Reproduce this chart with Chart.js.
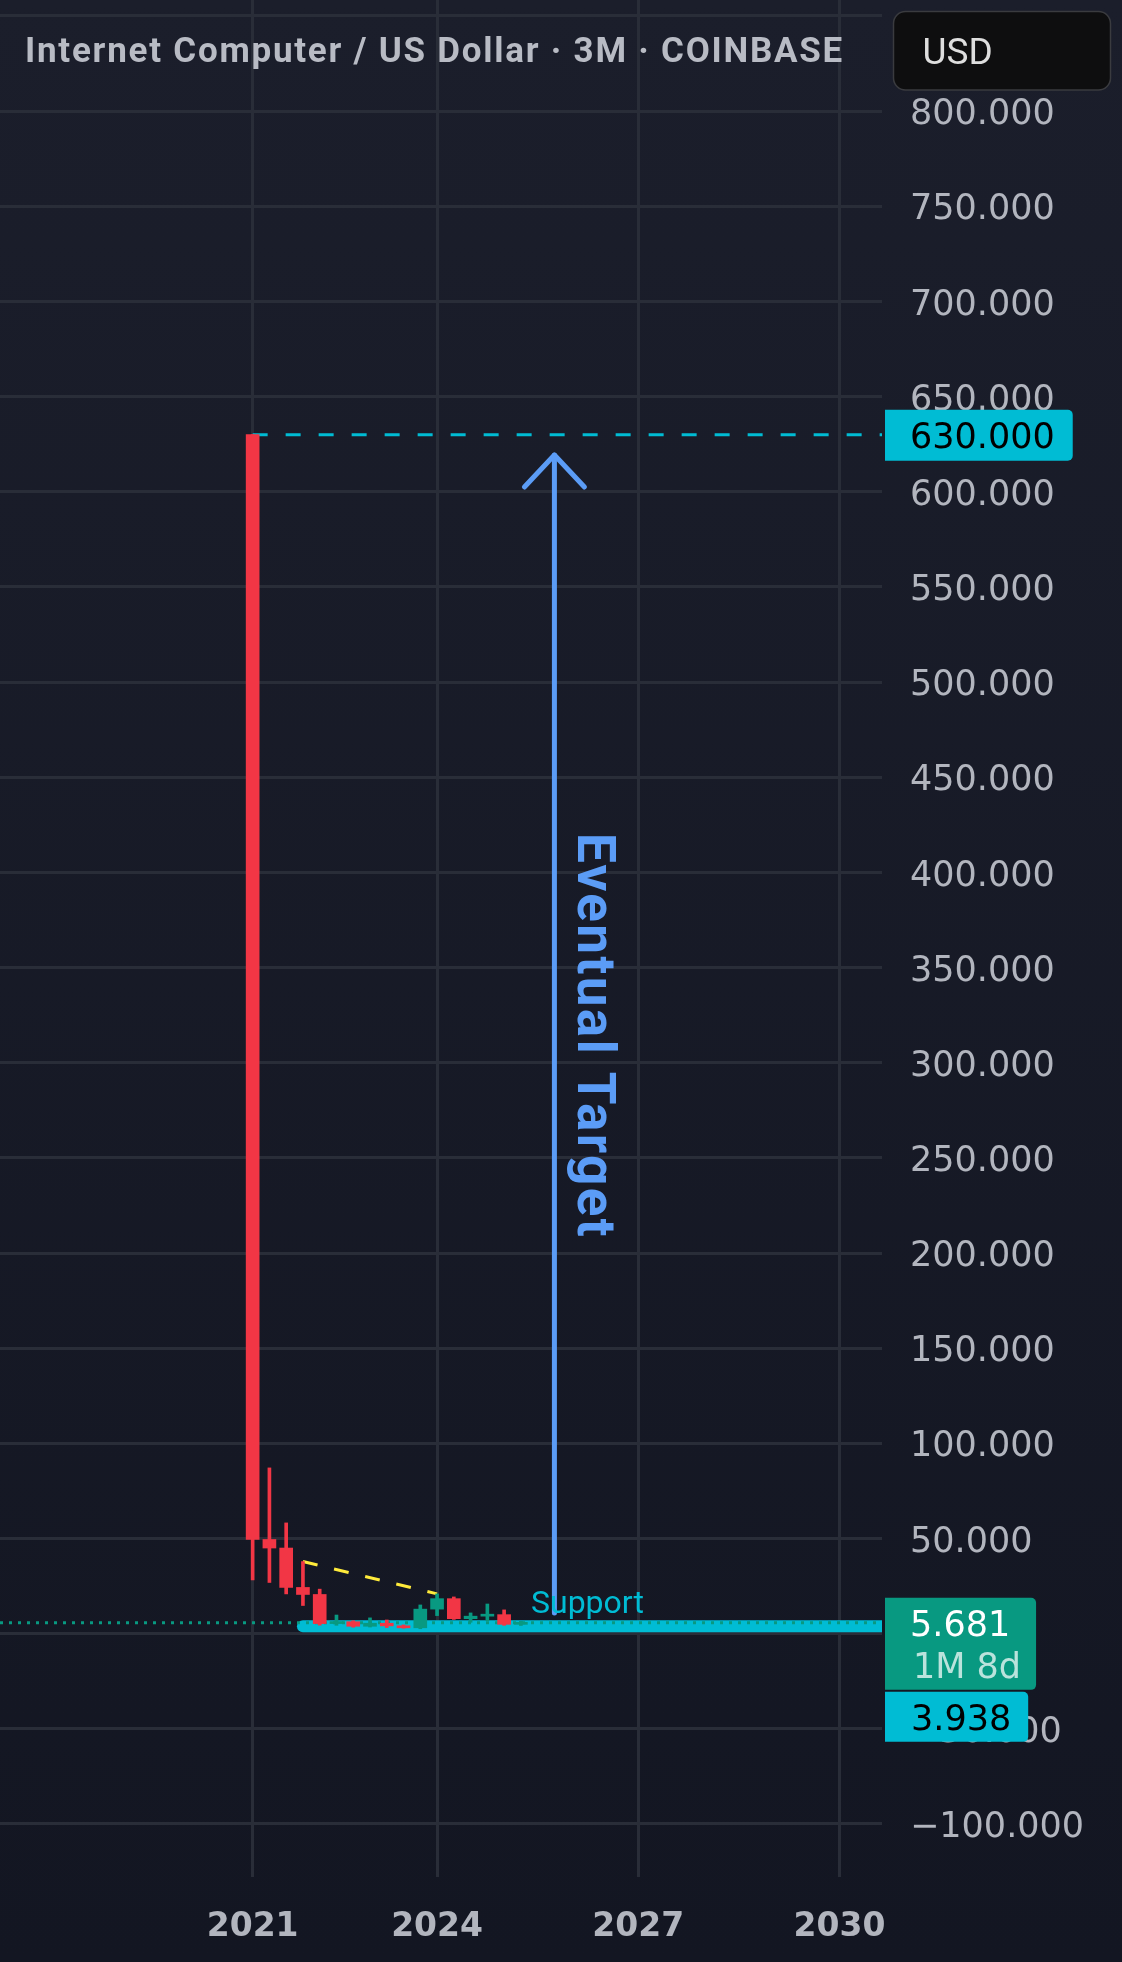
<!DOCTYPE html>
<html>
<head>
<meta charset="utf-8">
<script src="https://cdn.jsdelivr.net/npm/chart.js@4.4.1/dist/chart.umd.min.js"></script>
<style>
html,body{margin:0;padding:0;background:#161a25;overflow:hidden}
canvas{display:block}
</style>
</head>
<body>
<canvas id="c" width="1122" height="1962"></canvas>
<script>
// ---- data (ICP/USD, 3-month candles, Coinbase) ----
const quarters = ['2021 Q2','2021 Q3','2021 Q4','2022 Q1','2022 Q2','2022 Q3','2022 Q4','2023 Q1','2023 Q2','2023 Q3','2023 Q4','2024 Q1','2024 Q2','2024 Q3','2024 Q4','2025 Q1','2025 Q2'];
const opens  = [630.0, 49.5, 45.0, 24.3, 20.6, 5.3, 6.3, 3.9, 5.5, 4.1, 3.1, 12.9, 18.4, 7.9, 9.2, 10.0, 4.9];
const highs  = [630.0, 87.1, 58.2, 37.9, 23.4, 9.8, 6.8, 8.3, 7.2, 4.6, 15.1, 20.9, 19.3, 10.9, 15.6, 12.5, 6.5];
const lows   = [28.2, 26.9, 20.9, 14.8, 4.5, 4.4, 3.4, 3.5, 3.2, 2.9, 2.6, 9.5, 7.5, 6.0, 6.8, 4.4, 4.3];
const closes = [49.5, 45.0, 24.3, 20.6, 5.3, 6.3, 3.9, 5.5, 4.1, 3.1, 12.9, 18.4, 7.9, 9.2, 10.0, 4.9, 5.681];

// axes
const xMin = -15.07, xMax = 37.54;
const yMin = -127.85, yMax = 858.4;
const yTicks = [-100,-50,0,50,100,150,200,250,300,350,400,450,500,550,600,650,700,750,800,850];
const yHiddenLabels = [850];
const xTickIndex = [0, 11, 23, 35];
const xTickLabels = ['2021', '2024', '2027', '2030'];

// drawings
const trendX = [3, 11];
const trendY = [37.9, 20.9];
const targetLevel = 630;
const targetFromX = 0;
const supportLevel = 3.938;
const supportFromX = 3;
const lastPrice = 5.681;
const timeLeft = '1M 8d';
const arrowX = [18, 18];
const arrowY = [10.9, 619.3];

const title = 'Internet Computer / US Dollar \u00b7 3M \u00b7 COINBASE';
const currency = 'USD';

// ---- styles ----
const RED = '#f23645', GREEN = '#089981', CYAN = '#00bcd4', BLUE = '#5b9cf6', YELLOW = '#ffeb3b';
const GRID = '#292d38', TXT = '#b2b5be';
const LABEL_FONT = '35px "DejaVu Sans"';

const idx = quarters.map((_, i) => i);
const candleColors = idx.map(i => closes[i] >= opens[i] ? GREEN : RED);

function fmt(v) {
  const s = Math.abs(v).toFixed(3);
  return (v < 0 ? '\u2212' : '') + s;
}

function tagPath(ctx, x, y, w, h, r) {
  ctx.beginPath();
  ctx.moveTo(x, y);
  ctx.lineTo(x + w - r, y);
  ctx.arcTo(x + w, y, x + w, y + r, r);
  ctx.lineTo(x + w, y + h - r);
  ctx.arcTo(x + w, y + h, x + w - r, y + h, r);
  ctx.lineTo(x, y + h);
  ctx.closePath();
}
function roundPath(ctx, x, y, w, h, r) {
  ctx.beginPath();
  ctx.moveTo(x + r, y);
  ctx.arcTo(x + w, y, x + w, y + h, r);
  ctx.arcTo(x + w, y + h, x, y + h, r);
  ctx.arcTo(x, y + h, x, y, r);
  ctx.arcTo(x, y, x + w, y, r);
  ctx.closePath();
}

const deco = {
  id: 'deco',
  beforeDraw(chart) {
    const {ctx, width, height} = chart;
    const g = ctx.createLinearGradient(0, 0, 0, height);
    g.addColorStop(0, '#1b1e2b');
    g.addColorStop(1, '#131622');
    ctx.save();
    ctx.fillStyle = g;
    ctx.fillRect(0, 0, width, height);
    ctx.restore();
    // nudge the price-axis labels so the digits sit centred on their grid lines
    const items = chart.scales.y.getLabelItems();
    items.forEach(it => { if (!it._nudged) { it.textOffset += 4; it._nudged = true; } });
  },
  afterDatasetsDraw(chart) {
    const {ctx, chartArea: area} = chart;
    const xs = chart.scales.x, ys = chart.scales.y;
    // arrow head
    const ax = xs.getPixelForValue(arrowX[1]);
    const aTop = ys.getPixelForValue(arrowY[1]);
    const aBot = ys.getPixelForValue(arrowY[0]);
    ctx.save();
    ctx.strokeStyle = BLUE;
    ctx.lineWidth = 5;
    ctx.lineCap = 'round';
    ctx.lineJoin = 'round';
    ctx.beginPath();
    ctx.moveTo(ax - 30, aTop + 32);
    ctx.lineTo(ax, aTop);
    ctx.lineTo(ax + 30, aTop + 32);
    ctx.stroke();
    // arrow text
    ctx.translate(ax + 24, (aTop + aBot) / 2 + 2);
    ctx.rotate(Math.PI / 2);
    ctx.font = 'bold 53px Roboto';
    ctx.letterSpacing = '2.4px';
    ctx.textAlign = 'center';
    ctx.textBaseline = 'alphabetic';
    ctx.fillStyle = BLUE;
    ctx.fillText('Eventual Target', 0, 0);
    ctx.restore();
    // support text
    ctx.save();
    ctx.font = '32px Roboto';
    ctx.fillStyle = CYAN;
    ctx.textAlign = 'center';
    ctx.textBaseline = 'alphabetic';
    const sx0 = xs.getPixelForValue(supportFromX);
    const sy = ys.getPixelForValue(supportLevel);
    ctx.fillText('Support', (sx0 + area.right) / 2 - 5, sy - 13);
    ctx.restore();
  },
  afterDraw(chart) {
    const {ctx, chartArea: area} = chart;
    const ys = chart.scales.y;
    const tagX = area.right + 3;
    ctx.save();
    ctx.font = LABEL_FONT;
    ctx.textBaseline = 'alphabetic';
    ctx.textAlign = 'left';
    const dy = 13; // half digit height -> baseline offset
    // target level tag
    let cy = ys.getPixelForValue(targetLevel);
    let t = fmt(targetLevel);
    let w = 25 + ctx.measureText(t).width + 18;
    ctx.fillStyle = CYAN;
    tagPath(ctx, tagX, cy - 25, w, 51, 5);
    ctx.fill();
    ctx.fillStyle = '#000';
    ctx.fillText(t, tagX + 25, cy + dy);
    // last price tag
    cy = ys.getPixelForValue(lastPrice);
    const gTop = cy - 25, gH = 92;
    t = fmt(lastPrice);
    w = 25 + Math.max(ctx.measureText(t).width, ctx.measureText(timeLeft).width) + 18;
    ctx.fillStyle = GREEN;
    tagPath(ctx, tagX, gTop, w, gH, 5);
    ctx.fill();
    ctx.fillStyle = '#ffffff';
    ctx.fillText(t, tagX + 25, cy + dy);
    ctx.fillStyle = 'rgba(255,255,255,0.72)';
    ctx.fillText(timeLeft, tagX + 28, cy + 42 + dy);
    // support tag (stacked below)
    const sTop = gTop + gH + 2;
    t = fmt(supportLevel);
    w = 25 + ctx.measureText(t).width + 18;
    ctx.fillStyle = CYAN;
    tagPath(ctx, tagX, sTop, w, 50, 5);
    ctx.fill();
    ctx.fillStyle = '#000';
    ctx.fillText(t, tagX + 26, sTop + 25 + dy);
    ctx.restore();

    // title
    ctx.save();
    ctx.font = 'bold 35px Roboto';
    ctx.letterSpacing = '1.75px';
    ctx.fillStyle = '#b8bbc4';
    ctx.textAlign = 'left';
    ctx.textBaseline = 'alphabetic';
    ctx.fillText(title, 25, 62);
    ctx.restore();

    // currency box
    ctx.save();
    roundPath(ctx, 893.5, 11.5, 217, 78.5, 12);
    ctx.fillStyle = '#0e0e0f';
    ctx.fill();
    ctx.lineWidth = 1.5;
    ctx.strokeStyle = '#3a3b3f';
    ctx.stroke();
    ctx.font = '37px Roboto';
    ctx.fillStyle = '#dedede';
    ctx.textAlign = 'left';
    ctx.textBaseline = 'alphabetic';
    ctx.fillText(currency, 922.5, 63.5);
    ctx.restore();
  }
};

const cfg = {
  type: 'line',
  data: {
    datasets: [
      {
        type: 'bar', label: 'bodies', order: 0,
        data: idx.map(i => ({x: i, y: [opens[i], closes[i]]})),
        backgroundColor: candleColors, borderWidth: 0,
        grouped: false, barThickness: 13, maxBarThickness: 13, minBarLength: 2
      },
      {
        type: 'bar', label: 'wicks', order: 1,
        data: idx.map(i => ({x: i, y: [lows[i], highs[i]]})),
        backgroundColor: candleColors, borderWidth: 0,
        grouped: false, barThickness: 3, maxBarThickness: 3
      },
      {
        label: 'trend', order: 2,
        data: trendX.map((x, i) => ({x, y: trendY[i]})),
        borderColor: YELLOW, borderWidth: 3, borderDash: [15, 17],
        pointRadius: 0, fill: false, tension: 0, clip: 0
      },
      {
        label: 'arrow', order: 3,
        data: arrowX.map((x, i) => ({x, y: arrowY[i]})),
        borderColor: BLUE, borderWidth: 5, borderCapStyle: 'round',
        pointRadius: 0, fill: false, tension: 0, clip: 0
      },
      {
        label: 'target', order: 4,
        data: [{x: targetFromX, y: targetLevel}, {x: xMax, y: targetLevel}],
        borderColor: CYAN, borderWidth: 3, borderDash: [15, 18],
        pointRadius: 0, fill: false, tension: 0, clip: 0
      },
      {
        label: 'price', order: 5,
        data: [{x: xMin, y: lastPrice}, {x: xMax, y: lastPrice}],
        borderColor: GREEN, borderWidth: 3, borderDash: [3, 6],
        pointRadius: 0, fill: false, tension: 0, clip: 0
      },
      {
        label: 'support', order: 6,
        data: [{x: supportFromX, y: supportLevel}, {x: xMax, y: supportLevel}],
        borderColor: CYAN, borderWidth: 12, borderCapStyle: 'round',
        pointRadius: 0, fill: false, tension: 0, clip: 0
      }
    ]
  },
  options: {
    responsive: false,
    devicePixelRatio: 1,
    animation: false,
    events: [],
    layout: {padding: 0, autoPadding: false},
    plugins: {legend: {display: false}, tooltip: {enabled: false}},
    scales: {
      x: {
        type: 'linear', position: 'bottom', min: xMin, max: xMax,
        offset: false,
        grid: {color: GRID, lineWidth: 3, drawTicks: false, offset: false},
        border: {display: false},
        afterBuildTicks: s => { s.ticks = xTickIndex.map(v => ({value: v})); },
        afterFit: s => { s.height = 85; s.paddingLeft = 0; s.paddingRight = 0; },
        ticks: {
          autoSkip: false, maxRotation: 0, padding: 31, color: TXT,
          font: {family: '"DejaVu Sans"', size: 33, weight: 'bold'},
          callback: (v, i) => xTickLabels[i]
        }
      },
      y: {
        type: 'linear', position: 'right', min: yMin, max: yMax,
        grid: {color: GRID, lineWidth: 3, drawTicks: false},
        border: {display: false},
        afterBuildTicks: s => { s.ticks = yTicks.map(v => ({value: v})); },
        afterFit: s => { s.width = 240; s.paddingTop = 0; s.paddingBottom = 0; },
        ticks: {
          autoSkip: false, padding: 28, color: TXT, crossAlign: 'near',
          font: {family: '"DejaVu Sans"', size: 35},
          callback: v => yHiddenLabels.includes(v) ? '' : fmt(v)
        }
      }
    }
  },
  plugins: [deco]
};

new Chart(document.getElementById('c'), cfg);
</script>
</body>
</html>
